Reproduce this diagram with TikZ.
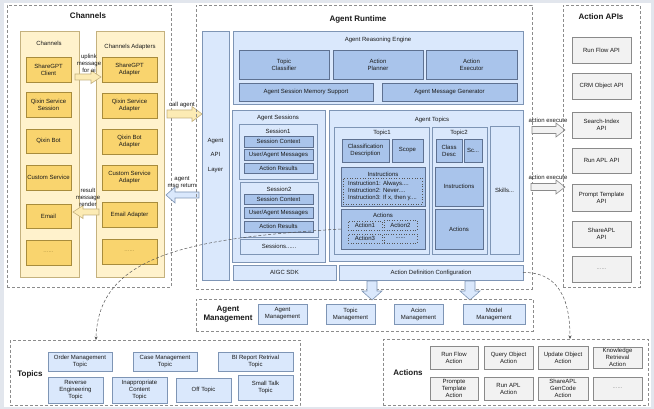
\documentclass[tikz,border=0pt]{standalone}
\usepackage{fontspec}
\setmainfont{Liberation Sans}
\usetikzlibrary{arrows.meta}
\definecolor{framebg}{HTML}{E2E6ED}
\definecolor{txt}{HTML}{1A1A1A}
\definecolor{ylight}{HTML}{FFF2CC}
\definecolor{yborder}{HTML}{C4B17E}
\definecolor{yitem}{HTML}{F9D46E}
\definecolor{yiborder}{HTML}{A88C3C}
\definecolor{yarrow}{HTML}{FCEBB4}
\definecolor{blight}{HTML}{DAE8FC}
\definecolor{bborder}{HTML}{7E95B5}
\definecolor{bdark}{HTML}{A9C4EB}
\definecolor{bdborder}{HTML}{5E7191}
\definecolor{glight}{HTML}{F2F2F2}
\definecolor{gborder}{HTML}{8A8A8A}
\definecolor{dashc}{HTML}{8C8C8C}
\definecolor{dotc}{HTML}{555555}
\newcommand\bx[7]{%
  \pgfmathsetmacro\bxw{#4-#2}\pgfmathsetmacro\bxh{#5-#3}%
  \pgfmathsetmacro\bxx{(#2+#4)/2}\pgfmathsetmacro\bxy{(#3+#5)/2}%
  \node[#6, minimum width=\bxw pt, minimum height=\bxh pt] (#1) at (\bxx,\bxy) {#7};}
% horizontal block arrow: style, xfrom, xto, y, shaft half, head half, head length
\newcommand\harrow[7]{%
  \pgfmathsetmacro\hab{#3-#7*sign(#3-#2)}%
  \pgfmathsetmacro\haa{#4-#5}\pgfmathsetmacro\hac{#4+#5}%
  \pgfmathsetmacro\had{#4-#6}\pgfmathsetmacro\hae{#4+#6}%
  \draw[#1] (#2,\haa) -- (\hab,\haa) -- (\hab,\had) -- (#3,#4) -- (\hab,\hae) -- (\hab,\hac) -- (#2,\hac) -- cycle;}
% vertical block arrow: style, x, yfrom, yto, shaft half, head half, head length
\newcommand\varrow[7]{%
  \pgfmathsetmacro\hab{#4-#7*sign(#4-#3)}%
  \pgfmathsetmacro\haa{#2-#5}\pgfmathsetmacro\hac{#2+#5}%
  \pgfmathsetmacro\had{#2-#6}\pgfmathsetmacro\hae{#2+#6}%
  \draw[#1] (\haa,#3) -- (\haa,\hab) -- (\had,\hab) -- (#2,#4) -- (\hae,\hab) -- (\hac,\hab) -- (\hac,#3) -- cycle;}
\begin{document}
\begin{tikzpicture}[x=1pt,y=-1pt, font=\fontsize{6}{7}\selectfont, text=txt,
  box/.style={draw, inner sep=0pt, outer sep=0pt, align=center, line width=0.6pt},
  yc/.style={box, fill=ylight, draw=yborder},
  yi/.style={box, fill=yitem, draw=yiborder},
  bl/.style={box, fill=blight, draw=bborder},
  bd/.style={box, fill=bdark, draw=bdborder},
  gr/.style={box, fill=glight, draw=gborder},
  dotbox/.style={box, fill=bdark, draw=dotc, dotted},
  group/.style={draw=dashc, dash pattern=on 3pt off 2pt, line width=0.7pt, inner sep=0pt, outer sep=0pt},
  title/.style={font=\fontsize{8}{9}\selectfont\bfseries, inner sep=0pt, align=center},
  lbl/.style={inner sep=0pt, align=center},
  yarr/.style={fill=yarrow, draw=yborder, line width=0.6pt, line join=miter},
  barr/.style={fill=blight, draw=bborder, line width=0.6pt, line join=miter},
  garr/.style={fill=glight, draw=gborder, line width=0.6pt, line join=miter},
  dotline/.style={draw=dotc, densely dashed, line width=0.5pt, -{Stealth[length=3.5pt,width=3pt]}}
]
\useasboundingbox (0,0) rectangle (654,409);
\fill[framebg] (0,0) rectangle (654,409);
\fill[white] (4,3) rectangle (651,407);

% ---------------- Channels ----------------
\bx{chgroup}{7}{5}{171}{287}{group}{}
\node[title] (chtitle) at (88,16) {Channels};
\bx{chcol}{20}{31}{79}{277}{yc}{}
\node[lbl] (chlbl) at (49,43) {Channels};
\bx{c1}{26}{57}{71}{82}{yi}{ShareGPT\\Client}
\bx{c2}{26}{92}{71}{117}{yi}{Qixin Service\\Session}
\bx{c3}{26}{129}{71}{153}{yi}{Qixin Bot}
\bx{c4}{26}{165}{71}{190}{yi}{Custom Service}
\bx{c5}{26}{204}{71}{228}{yi}{Email}
\bx{c6}{26}{240}{71}{265}{yi}{\textcolor{yiborder}{......}}
\bx{adcol}{96}{31}{164}{277}{yc}{}
\node[lbl] (adlbl) at (130,47) {Channels Adapters};
\bx{a1}{102}{57}{157}{82}{yi}{ShareGPT\\Adapter}
\bx{a2}{102}{93}{157}{118}{yi}{Qixin Service\\Adapter}
\bx{a3}{102}{129}{157}{154}{yi}{Qixin Bot\\Adapter}
\bx{a4}{102}{165}{157}{190}{yi}{Custom Service\\Adapter}
\bx{a5}{102}{202}{157}{227}{yi}{Email Adapter}
\bx{a6}{102}{239}{157}{264}{yi}{\textcolor{yiborder}{......}}
\harrow{yarr}{75}{101}{77}{3}{6.5}{10}
\node[lbl] (uplbl) at (89,63) {uplink\\message\\for ai};
\harrow{yarr}{99}{73}{212}{3}{6.5}{10}
\node[lbl] (reslbl) at (88,197) {result\\message\\render};
\harrow{yarr}{167}{202}{114}{4}{7.5}{10}
\node[lbl] (calllbl) at (182,105) {call agent};
\harrow{barr}{199}{166}{195}{3}{8}{9}
\node[lbl] (retlbl) at (182,183) {agent\\msg return};

% ---------------- Agent Runtime ----------------
\bx{rtgroup}{196}{5}{532}{289}{group}{}
\node[title] (rttitle) at (358,19) {Agent Runtime};
\bx{api}{202}{31}{229}{280}{bl}{Agent\\[7.5pt]API\\[7.5pt]Layer}
\bx{are}{233}{31}{523}{104}{bl}{}
\node[lbl] (arelbl) at (378,40) {Agent Reasoning Engine};
\bx{tc}{239}{50}{329}{79}{bd}{Topic\\Classifier}
\bx{ap}{333}{50}{423}{79}{bd}{Action\\Planner}
\bx{ae}{426}{50}{517}{79}{bd}{Action\\Executor}
\bx{ms}{239}{83}{373}{101}{bd}{Agent Session Memory Support}
\bx{mg}{382}{83}{517}{101}{bd}{Agent Message Generator}

% Sessions
\bx{ses}{232}{110}{325}{262}{bl}{}
\node[lbl] (seslbl) at (278,118) {Agent Sessions};
\bx{s1}{239}{124}{317}{179}{bl}{}
\node[lbl] (s1lbl) at (278,131) {Session1};
\bx{s1a}{244}{136}{313}{147}{bd}{Session Context}
\bx{s1b}{244}{149}{313}{160}{bd}{User/Agent Messages}
\bx{s1c}{244}{163}{313}{173}{bd}{Action Results}
\bx{s2}{240}{182}{318}{237}{bl}{}
\node[lbl] (s2lbl) at (279,189) {Session2};
\bx{s2a}{244}{194}{313}{204}{bd}{Session Context}
\bx{s2b}{244}{207}{313}{218}{bd}{User/Agent Messages}
\bx{s2c}{244}{221}{313}{232}{bd}{Action Results}
\bx{sx}{240}{239}{318}{254}{bl}{Sessions......}

% Topics
\bx{tops}{329}{110}{523}{261}{bl}{}
\node[lbl] (topslbl) at (432,120) {Agent Topics};
\bx{t1}{334}{127}{429}{254}{bl}{}
\node[lbl] (t1lbl) at (382,133) {Topic1};
\bx{t1cd}{342}{139}{389}{162}{bd}{Classification\\Description}
\bx{t1sc}{392}{139}{423}{162}{bd}{Scope}
\bx{t1ins}{341}{167}{425}{206}{bd}{}
\node[lbl] (t1inslbl) at (383,174) {Instructions};
\bx{t1insl}{343}{178}{422}{204}{dotbox}{}
\node[lbl, align=left] (t1instxt) at (382.5,191) {Instruction1: Always....\\Instruction2: Never....\\Instruction3: If x, then y....};
\bx{t1act}{341}{209}{425}{249}{bd}{}
\node[lbl] (t1actlbl) at (383,215) {Actions};
\bx{ac1}{348}{221}{382}{230}{dotbox}{Action1}
\bx{ac2}{384}{220}{417}{230}{dotbox}{Action2}
\bx{ac3}{348}{234}{382}{243}{dotbox}{Action3}
\bx{ac4}{384}{234}{417}{243}{dotbox}{......}
\bx{t2}{432}{127}{487}{254}{bl}{}
\node[lbl] (t2lbl) at (459,133) {Topic2};
\bx{t2cd}{436}{139}{462}{162}{bd}{Class\\Desc}
\bx{t2sc}{464}{139}{482}{162}{bd}{Sc...}
\bx{t2ins}{435}{167}{483}{206}{bd}{Instructions}
\bx{t2act}{435}{209}{483}{249}{bd}{Actions}
\bx{sk}{490}{126}{519}{254}{bl}{Skills...}

\bx{sdk}{233}{265}{336}{280}{bl}{AIGC SDK}
\bx{adc}{339}{265}{523}{280}{bl}{Action Definition Configuration}

% action execute arrows
\harrow{garr}{532}{565}{130}{3.5}{7}{9}
\node[lbl] (ex1lbl) at (548,120) {action execute};
\harrow{garr}{531}{565}{187}{3.5}{7}{9}
\node[lbl] (ex2lbl) at (548,177) {action execute};

% down arrows
\varrow{barr}{372}{281}{300}{5}{10}{9}
\varrow{barr}{470}{281}{300}{5}{10}{9}

% ---------------- Agent Management ----------------
\bx{mggroup}{196}{299}{533}{331}{group}{}
\node[title] (mgtitle) at (228,314.5) {Agent\\Management};
\bx{m1}{258}{304}{307}{324}{bl}{Agent\\Management}
\bx{m2}{326}{304}{375}{324}{bl}{Topic\\Management}
\bx{m3}{394}{304}{443}{324}{bl}{Acion\\Management}
\bx{m4}{463}{304}{525}{324}{bl}{Model\\Management}

% ---------------- Action APIs ----------------
\bx{apigroup}{563}{5}{640}{287}{group}{}
\node[title] (apititle) at (601,17) {Action APIs};
\bx{p1}{572}{37}{631}{63}{gr}{Run Flow API}
\bx{p2}{572}{73}{631}{99}{gr}{CRM Object API}
\bx{p3}{572}{112}{631}{138}{gr}{Search-Index\\API}
\bx{p4}{572}{148}{631}{173}{gr}{Run APL API}
\bx{p5}{572}{184}{631}{211}{gr}{Prompt Template\\API}
\bx{p6}{572}{221}{631}{247}{gr}{ShareAPL\\API}
\bx{p7}{572}{256}{631}{282}{gr}{\textcolor{gborder}{......}}

% ---------------- Topics ----------------
\bx{tpgroup}{10}{340}{300}{405.5}{group}{}
\node[title] (tptitle) at (30,374) {Topics};
\bx{tp1}{48}{352}{112}{371}{bl}{Order Management\\Topic}
\bx{tp2}{133}{352}{197}{371}{bl}{Case Management\\Topic}
\bx{tp3}{218}{352}{293}{371}{bl}{BI Report Retrival\\Topic}
\bx{tp4}{48}{377}{103}{403}{bl}{Reverse\\Engineering\\Topic}
\bx{tp5}{112}{377}{167}{403}{bl}{Inappropriate\\Content\\Topic}
\bx{tp6}{176}{378}{231}{402}{bl}{Off Topic}
\bx{tp7}{238}{375}{293}{400}{bl}{Small Talk\\Topic}

% ---------------- Actions ----------------
\bx{acgroup}{383}{339}{648}{405.5}{group}{}
\node[title] (actitle) at (408,373) {Actions};
\bx{x1}{430}{346}{478}{369}{gr}{Run Flow\\Action}
\bx{x2}{484}{346}{533}{369}{gr}{Query Object\\Action}
\bx{x3}{538}{346}{588}{369}{gr}{Update Object\\Action}
\bx{x4}{593}{347}{642}{368}{gr}{Knowledge\\Retrieval\\Action}
\bx{x5}{430}{377}{478}{400}{gr}{Prompte\\Template\\Action}
\bx{x6}{484}{377}{533}{400}{gr}{Run APL\\Action}
\bx{x7}{538}{377}{588}{400}{gr}{ShareAPL\\GenCode\\Action}
\bx{x8}{593}{377}{642}{400}{gr}{\textcolor{gborder}{......}}

% ---------------- dotted links ----------------
\coordinate (tpin) at (96,340);
\coordinate (acin) at (570,339);
\draw[dotline] (t1act.west) .. controls (190,238) and (98,255) .. (tpin);
\draw[dotline] (adc.east) .. controls (552,272) and (570,290) .. (acin);
\end{tikzpicture}
\end{document}
